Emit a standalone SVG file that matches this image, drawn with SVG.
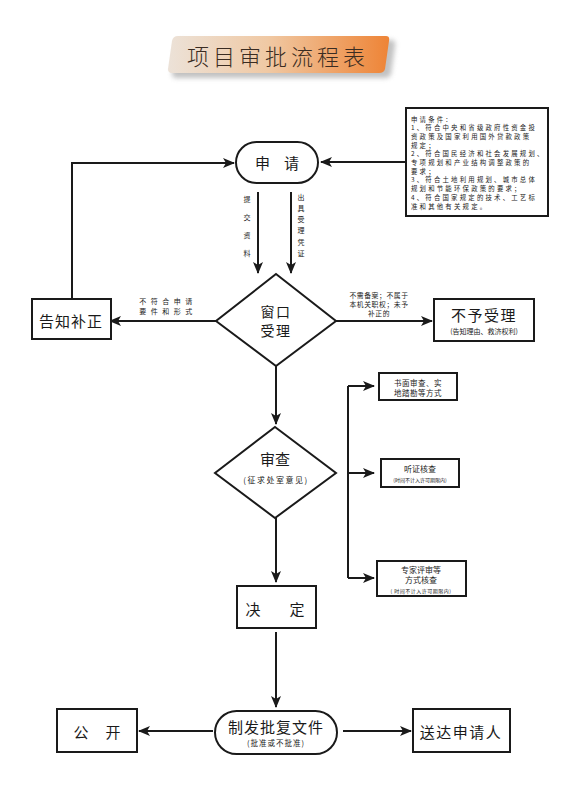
<svg xmlns="http://www.w3.org/2000/svg" width="578" height="791" viewBox="0 0 578 791">
<defs>
<linearGradient id="bannerGrad" x1="0" y1="0" x2="1" y2="0">
<stop offset="0" stop-color="#ece2d8"/>
<stop offset="0.45" stop-color="#f0c9a4"/>
<stop offset="1" stop-color="#ee8436"/>
</linearGradient>
<filter id="shadow" x="-10%" y="-20%" width="130%" height="160%">
<feGaussianBlur stdDeviation="2.5"/>
</filter>
<marker id="arr" viewBox="0 0 12 10" refX="11" refY="5" markerWidth="12" markerHeight="10" markerUnits="userSpaceOnUse" orient="auto">
<path d="M0,0 L12,5 L0,10 L3,5 Z" fill="#1a1a1a"/>
</marker>
</defs>
<style>
text{font-family:"Noto Sans CJK SC","Noto Sans",sans-serif;fill:#1a1a1a;text-anchor:middle;dominant-baseline:central}
.box{fill:#fff;stroke:#1a1a1a;stroke-width:2}
.line{fill:none;stroke:#1a1a1a;stroke-width:2}
.arrow{fill:none;stroke:#1a1a1a;stroke-width:2;marker-end:url(#arr)}
.big{font-size:15px}
.sm{font-size:7px}
.cond{font-size:6.4px;text-anchor:start;letter-spacing:2.2px}
.tiny{font-size:5px}
</style>
<rect width="578" height="791" fill="#fff"/>

<g id="title">
<path d="M182,40 L392,40 Q396,40 395,46 L391,74 Q390,78 384,78 L176,78 Q172,78 172,73 L176,46 Q177,40 182,40 Z" fill="#9a9a9a" opacity="0.6" filter="url(#shadow)"/>
<path d="M178,36 L386,36 Q390,36 389,41 L385,69 Q384,73 379,73 L172,73 Q168,73 168,69 L172,41 Q173,36 178,36 Z" fill="url(#bannerGrad)"/>
<text x="278" y="55" style="font-size:22px;letter-spacing:4px;fill:#3a2c22;font-weight:300">项目审批流程表</text>
</g>

<g id="connectors">
<path class="arrow" d="M406,162 L321,162"/>
<path class="arrow" d="M72,298 L72,163 L234,163"/>
<path class="arrow" d="M258,192 L258,273"/>
<path class="arrow" d="M291,192 L291,273"/>
<path class="arrow" d="M216,321 L110,321"/>
<path class="arrow" d="M336,321 L432,321"/>
<path class="arrow" d="M276,366 L276,424"/>
<path class="line" d="M348,386 L348,578"/>
<path class="arrow" d="M348,386 L374,386"/>
<path class="arrow" d="M348,473 L374,473"/>
<path class="arrow" d="M348,578 L374,578"/>
<path class="arrow" d="M276,518 L276,582"/>
<path class="arrow" d="M276,632 L276,707"/>
<path class="arrow" d="M213,731 L139,731"/>
<path class="arrow" d="M343,731 L411,731"/>
<text x="247" y="199" class="sm">提</text>
<text x="247" y="217" class="sm">交</text>
<text x="247" y="235" class="sm">资</text>
<text x="247" y="253" class="sm">料</text>
<text x="301" y="197" class="sm">出</text>
<text x="301" y="208" class="sm">具</text>
<text x="301" y="219" class="sm">受</text>
<text x="301" y="230" class="sm">理</text>
<text x="301" y="242" class="sm">凭</text>
<text x="301" y="253" class="sm">证</text>
<text x="168" y="301" class="sm" style="letter-spacing:4.5px">不符合申请</text>
<text x="168" y="311" class="sm" style="letter-spacing:4.5px">要件和形式</text>
<text x="379" y="295" style="font-size:6.8px;letter-spacing:0.6px">不需备案；不属于</text>
<text x="379" y="304" style="font-size:6.8px;letter-spacing:0.6px">本机关职权；未予</text>
<text x="379" y="313" style="font-size:6.8px;letter-spacing:0.6px">补正的</text>
</g>

<g id="conditions">
<rect class="box" x="406" y="108" width="142" height="108" stroke-width="2"/>
<text x="411" y="119" class="cond">申请条件：</text>
<text x="411" y="127.7" class="cond">1、符合中央和省级政府性资金投</text>
<text x="411" y="136.4" class="cond">资政策及国家利用国外贷款政策</text>
<text x="411" y="145.1" class="cond">规定；</text>
<text x="411" y="153.8" class="cond">2、符合国民经济和社会发展规划、</text>
<text x="411" y="162.5" class="cond">专项规划和产业结构调整政策的</text>
<text x="411" y="171.2" class="cond">要求；</text>
<text x="411" y="179.9" class="cond">3、符合土地利用规划、城市总体</text>
<text x="411" y="188.6" class="cond">规划和节能环保政策的要求；</text>
<text x="411" y="197.3" class="cond">4、符合国家规定的技术、工艺标</text>
<text x="411" y="206" class="cond">准和其他有关规定。</text>
</g>

<g id="apply">
<rect class="box" x="236" y="142" width="82" height="41" rx="20.5" ry="20.5"/>
<text x="277" y="162" class="big" style="letter-spacing:14px" dx="7">申请</text>
</g>

<g id="window">
<path class="box" d="M276,274 L336,321 L276,366 L216,321 Z"/>
<text x="276" y="311" style="font-size:14px;letter-spacing:1.5px">窗口</text>
<text x="276" y="330" style="font-size:14px;letter-spacing:1.5px">受理</text>
</g>

<g id="notify">
<rect class="box" x="32" y="299" width="79" height="40"/>
<text x="71" y="320" class="big" style="letter-spacing:1px">告知补正</text>
</g>

<g id="reject">
<rect class="box" x="434" y="299" width="100" height="42" stroke-width="2.5"/>
<text x="484" y="314" style="font-size:15px;letter-spacing:1.5px">不予受理</text>
<text x="484" y="331" style="font-size:7px">(告知理由、救济权利)</text>
</g>

<g id="review">
<path class="box" d="M275,427 L336,473 L275,518 L215,473 Z"/>
<text x="275" y="458" style="font-size:15px">审查</text>
<text x="276" y="479" style="font-size:8px;letter-spacing:1.5px">(征求处室意见)</text>
</g>

<g id="written">
<rect class="box" x="379" y="373" width="78" height="27"/>
<text x="418" y="382" style="font-size:7.5px;letter-spacing:0.5px">书面审查、实</text>
<text x="418" y="392" style="font-size:7.5px;letter-spacing:0.5px">地踏勘等方式</text>
</g>

<g id="hearing">
<rect class="box" x="381" y="459" width="78" height="28"/>
<text x="420" y="468" style="font-size:8px">听证核查</text>
<text x="420" y="479" class="tiny">(时间不计入许可期限内)</text>
</g>

<g id="expert">
<rect class="box" x="377" y="561" width="89" height="35"/>
<text x="421" y="569" style="font-size:8px">专家评审等</text>
<text x="421" y="579" style="font-size:8px">方式核查</text>
<text x="421" y="590" class="tiny" style="letter-spacing:0.5px">( 时间不计入许可期限内)</text>
</g>

<g id="decide">
<rect class="box" x="237" y="586" width="79" height="42"/>
<text x="253" y="608" class="big">决</text>
<text x="297" y="608" class="big">定</text>
</g>

<g id="issue">
<rect class="box" x="215" y="711" width="122" height="43" rx="21.5" ry="21.5"/>
<text x="276" y="726" style="font-size:15px;letter-spacing:1px">制发批复文件</text>
<text x="276" y="742" style="font-size:7.5px;letter-spacing:1px">(批准或不批准)</text>
</g>

<g id="publish">
<rect class="box" x="57" y="709" width="80" height="43"/>
<text x="81" y="731" class="big">公</text>
<text x="113" y="731" class="big">开</text>
</g>

<g id="deliver">
<rect class="box" x="413" y="709" width="97" height="43"/>
<text x="461" y="731" class="big" style="letter-spacing:1.5px">送达申请人</text>
</g>
</svg>
